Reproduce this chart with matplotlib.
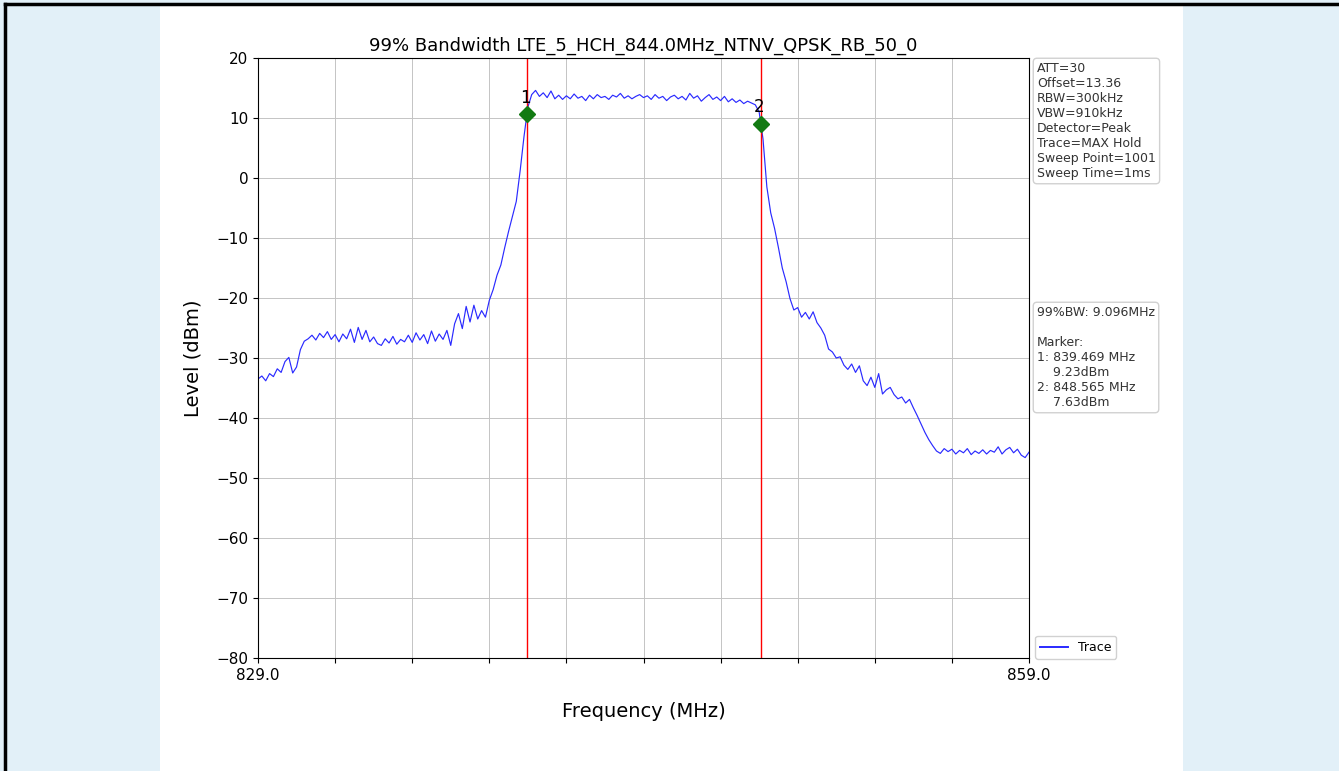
import matplotlib.pyplot as plt
import numpy as np
from matplotlib.patches import Rectangle
from matplotlib.lines import Line2D

# sweep settings
f_start = 829.0
f_stop = 859.0
f_step = 0.15

# max-hold trace levels (dBm), one row per 1.5 MHz
trace_dbm = [
    -33.5, -33.0, -33.8, -32.6, -33.1, -31.8, -32.4, -30.6, -29.9, -32.5,
    -31.5, -28.6, -27.2, -26.8, -26.2, -27.0, -25.9, -26.6, -25.6, -26.9,
    -26.1, -27.3, -26.0, -26.8, -25.2, -27.4, -24.9, -26.9, -25.4, -27.3,
    -26.5, -27.6, -27.9, -26.8, -27.5, -26.4, -27.7, -26.9, -27.3, -26.2,
    -27.4, -25.8, -27.0, -26.1, -27.6, -25.5, -27.2, -26.0, -26.9, -25.4,
    -27.9, -24.3, -22.6, -25.1, -21.4, -24.0, -21.2, -23.5, -22.1, -23.2,
    -20.4, -18.6, -16.2, -14.5, -11.6, -8.9, -6.4, -3.9, 1.2, 6.9,
    11.8, 13.9, 14.6, 13.6, 14.2, 13.4, 14.5, 13.2, 13.8, 13.1,
    13.7, 13.2, 14.0, 13.3, 13.6, 12.9, 13.8, 13.2, 13.9, 13.4,
    13.6, 13.1, 13.8, 13.5, 14.1, 13.3, 13.7, 13.2, 13.6, 13.9,
    13.4, 13.7, 13.1, 13.9, 13.3, 13.6, 12.9, 13.5, 13.8, 13.2,
    13.6, 13.0, 14.1, 13.3, 13.7, 12.8, 13.4, 13.9, 13.1, 13.5,
    12.9, 13.6, 12.7, 13.2, 12.6, 13.0, 12.4, 12.8, 12.5, 12.2,
    11.0, 6.5, -1.5, -5.8, -8.4, -11.6, -15.0, -17.3, -20.1, -22.0,
    -21.6, -23.2, -22.4, -23.5, -22.3, -24.1, -25.0, -26.2, -28.5, -29.0,
    -30.0, -29.8, -31.2, -31.9, -31.0, -32.4, -31.3, -33.8, -34.6, -33.2,
    -34.9, -32.6, -36.0, -35.3, -34.9, -36.1, -36.8, -36.5, -37.5, -36.9,
    -38.3, -39.6, -41.0, -42.4, -43.6, -44.6, -45.5, -45.9, -45.1, -45.6,
    -45.2, -46.0, -45.4, -45.8, -45.1, -46.1, -45.5, -45.9, -45.3, -46.0,
    -45.4, -45.7, -44.8, -46.0, -45.3, -44.9, -45.8, -45.2, -46.2, -46.6,
    -45.7,
]

# 99% occupied bandwidth markers
marker_names = ['1', '2']
marker_mhz = [839.469, 848.565]
marker_dbm = [9.23, 7.63]
level_offset = 1.36

settings = ['ATT=30', 'Offset=13.36', 'RBW=300kHz', 'VBW=910kHz',
            'Detector=Peak', 'Trace=MAX Hold', 'Sweep Point=1001',
            'Sweep Time=1ms']
obw_text = '99%BW: 9.096MHz'

title = '99% Bandwidth LTE_5_HCH_844.0MHz_NTNV_QPSK_RB_50_0'

freqs = f_start + f_step * np.arange(len(trace_dbm))

fig = plt.figure(figsize=(13.39, 7.71), dpi=100)
fig.patch.set_facecolor('#e2f0f8')

# white page behind the plot
W, H = 1339, 771
fig.patches.append(Rectangle((160 / W, 0), (1183 - 160) / W, 1 - 5 / H,
                             transform=fig.transFigure, facecolor='white',
                             edgecolor='none', zorder=-10))
fig.lines.append(Line2D([5 / W, 1], [1 - 4 / H, 1 - 4 / H],
                        transform=fig.transFigure, color='black', lw=2.5))
fig.lines.append(Line2D([5 / W, 5 / W], [0, 1 - 4 / H],
                        transform=fig.transFigure, color='black', lw=2.5))

ax = fig.add_axes([258 / W, 1 - 658 / H, (1029 - 258) / W, (658 - 58) / H])
ax.set_facecolor('white')

ax.plot(freqs, trace_dbm, color='#2a2aff', lw=0.85, label='Trace')

for name, f, lvl in zip(marker_names, marker_mhz, marker_dbm):
    y = lvl + level_offset
    ax.axvline(f, color='red', lw=1)
    ax.plot(f, y, 'D', color='#127a12', markersize=8)
    ax.text(f - 0.07, y + 1.3, name, ha='center', va='bottom', fontsize=12)

ax.set_xlim(f_start, f_stop)
ax.set_ylim(-80, 20)
xt = np.arange(829, 860, 3)
ax.set_xticks(xt)
ax.set_xticklabels(['829.0'] + [''] * (len(xt) - 2) + ['859.0'], fontsize=11)
ax.set_yticks(np.arange(-80, 21, 10))
ax.tick_params(axis='y', labelsize=11)
ax.grid(True, color='#c4c4c4', lw=0.7, linestyle='-')
ax.set_axisbelow(True)

ax.set_title(title, fontsize=13, pad=5)
ax.set_xlabel('Frequency (MHz)', fontsize=14, labelpad=14)
ax.set_ylabel('Level (dBm)', fontsize=14, labelpad=10)

box = dict(boxstyle='round,pad=0.3', facecolor='white', edgecolor='#cccccc',
           alpha=0.9)
fig.text(1037 / W, 1 - 62 / H, '\n'.join(settings), fontsize=9, va='top',
         ha='left', color='#333333', bbox=box, linespacing=1.2)

marker_lines = [obw_text, '', 'Marker:']
for name, f, lvl in zip(marker_names, marker_mhz, marker_dbm):
    marker_lines.append(f'{name}: {f:.3f} MHz')
    marker_lines.append(f'    {lvl:.2f}dBm')
fig.text(1037 / W, 1 - 306 / H, '\n'.join(marker_lines), fontsize=9,
         va='top', ha='left', color='#333333', bbox=box, linespacing=1.2)

leg = ax.legend(loc='lower left', bbox_to_anchor=(1.0, -0.012), fontsize=9,
                framealpha=0.9, edgecolor='#cccccc', handlelength=2.2)
for h in leg.get_lines():
    h.set_linewidth(1.4)

fig.savefig('out.png', dpi=100, facecolor=fig.get_facecolor())
